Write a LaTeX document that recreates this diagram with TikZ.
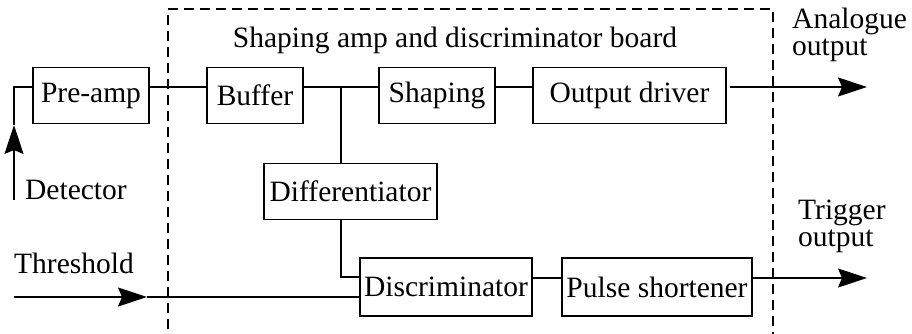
\documentclass[tikz,border=0pt]{standalone}
\usepackage{fontspec}
\setmainfont{Liberation Serif}
\usepackage{tikz}
\usetikzlibrary{arrows.meta,positioning,calc}
\tikzset{
  block/.style={rectangle,draw,line width=1.2pt,minimum height=56pt,
                inner sep=0pt,align=center},
  wire/.style={line width=1.2pt},
  link/.style={wire,-{Stealth[length=29pt,width=19pt,inset=4pt]}},
  board/.style={line width=1.2pt,dash pattern=on 10pt off 6pt},
  lbl/.style={inner sep=0pt,align=left,anchor=west},
}

\begin{document}
\begin{tikzpicture}[x=1pt,y=-1pt,font=\fontsize{29.5}{27}\selectfont]
\useasboundingbox (0,0) rectangle (912,334);

% board outline, open at the bottom
\draw[board] (168,345) |- (773,9) -- (773,345);
\node (title) at (455,40) {Shaping amp and discriminator board};

% blocks
\node[block,minimum width=116pt] (preamp) at (91,95.5) {Pre-amp};
\node[block,minimum width=96pt] (buffer) at (255,95.5) {Buffer};
\node[block,minimum width=116pt] (shaping) at (437,95.5) {Shaping};
\node[block,minimum width=193pt] (outdrv) at (629.5,95.5) {Output driver};
\node[block,minimum width=173pt] (diff) at (350.5,191.5) {Differentiator};
\node[block,minimum width=172pt,minimum height=58pt] (discr) at (446,287) {Discriminator};
\node[block,minimum width=190pt,minimum height=58pt] (pulse) at (657,287) {Pulse shortener};

% labels
\node[lbl] (detlbl) at (25,190) {Detector};
\node[lbl] (thrlbl) at (14,263) {Threshold};
\node[lbl] (analbl) at (792,35) {Analogue\\output};
\node[lbl] (triglbl) at (798,226) {Trigger\\output};

\coordinate (det) at (14,200);
\coordinate (detarr) at (14,125);
\coordinate (thr) at (14,297);
\coordinate (thrarr) at (147,297);
\coordinate (branch) at (341,87);
\coordinate (anaout) at (867,87);
\coordinate (trigout) at (867,278);

% connectors
\draw[link] (det) -- (detarr);
\draw[wire] (detarr) |- ([yshift=8.5pt]preamp.west);
\draw[wire] ([yshift=8.5pt]preamp.east) -- ([yshift=8.5pt]buffer.west);
\draw[wire] ([yshift=8.5pt]buffer.east) -- ([yshift=8.5pt]shaping.west);
\draw[wire] ([yshift=8.5pt]shaping.east) -- ([yshift=8.5pt]outdrv.west);
\draw[link] ([xshift=3pt,yshift=8.5pt]outdrv.east) -- (anaout);
\draw[wire] (branch) -- (diff.north -| branch);
\draw[wire] (diff.south -| branch) |- ([yshift=10pt]discr.west);
\draw[link] (thr) -- (thrarr);
\draw[wire] (thrarr) -- ([yshift=-10pt]discr.west);
\draw[wire] ([yshift=9pt]discr.east) -- ([yshift=9pt]pulse.west);
\draw[link] ([yshift=9pt]pulse.east) -- (trigout);
\end{tikzpicture}
\end{document}
